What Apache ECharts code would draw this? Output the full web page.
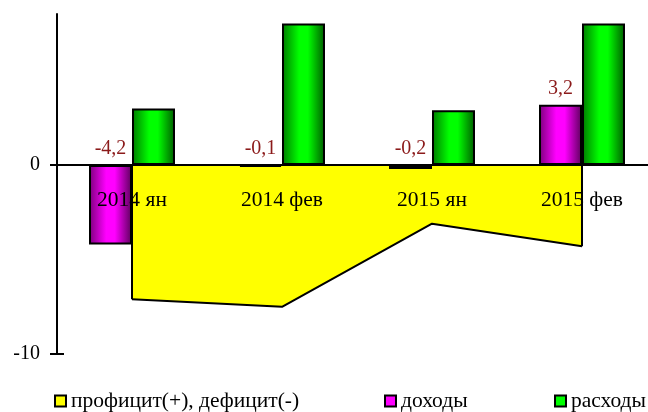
<!DOCTYPE html>
<html>
<head>
<meta charset="utf-8">
<script src="https://cdn.jsdelivr.net/npm/echarts@6/dist/echarts.min.js"></script>
<style>
  html, body { margin: 0; padding: 0; background: #fff; }
  #chart { width: 648px; height: 412px; }
</style>
</head>
<body>
<div id="chart"></div>
<script>
// data
var categories = ['2014 ян', '2014 фев', '2015 ян', '2015 фев'];
var balance = [-7.1, -7.5, -3.1, -4.3];   // профицит(+), дефицит(-)
var income = [-4.2, -0.1, -0.2, 3.2];     // доходы
var expense = [3.0, 7.5, 2.9, 7.5];       // расходы
var yTicks = [-10, 0];

var FONT = '"Liberation Serif", "DejaVu Serif", serif';

function barGradient(dark, bright, darker) {
  return new echarts.graphic.LinearGradient(0, 0, 1, 0, [
    { offset: 0, color: dark },
    { offset: 0.4, color: bright },
    { offset: 0.6, color: bright },
    { offset: 1, color: darker }
  ]);
}

var chart = echarts.init(document.getElementById('chart'), null, { renderer: 'canvas' });

var legendBase = {
  top: 390,
  padding: 0,
  itemWidth: 11,
  itemHeight: 11,
  icon: 'rect',
  textStyle: { fontFamily: FONT, fontSize: 21.5, color: '#000' },
  selectedMode: false
};

chart.setOption({
  animation: false,
  backgroundColor: '#fff',
  grid: { left: 57, right: -9, top: 14, bottom: 58, outerBoundsMode: 'none' },
  legend: [
    Object.assign({}, legendBase, {
      left: 54,
      data: [{ name: 'профицит(+), дефицит(-)', itemStyle: { color: '#ffff00', borderColor: '#000', borderWidth: 2 } }]
    }),
    Object.assign({}, legendBase, {
      left: 384,
      data: [{ name: 'доходы', itemStyle: { color: '#ff00ff', borderColor: '#000', borderWidth: 2 } }]
    }),
    Object.assign({}, legendBase, {
      left: 554,
      data: [{ name: 'расходы', itemStyle: { color: '#00ff00', borderColor: '#000', borderWidth: 2 } }]
    })
  ],
  xAxis: {
    type: 'category',
    data: categories,
    z: 10,
    position: 'bottom',
    offset: -189,
    axisLine: { onZero: false, lineStyle: { color: '#000', width: 2 } },
    axisTick: { show: false },
    axisLabel: { fontFamily: FONT, fontSize: 21.5, color: '#000', margin: 24 },
    splitLine: { show: false }
  },
  yAxis: [
    {
      type: 'value',
      min: -10,
      max: 8,
      interval: 10,
      axisLine: { show: true, lineStyle: { color: '#000', width: 2 } },
      axisTick: { show: true, customValues: yTicks, length: 7, lineStyle: { color: '#000', width: 2 } },
      axisLabel: { customValues: yTicks, fontFamily: FONT, fontSize: 20, color: '#000', margin: 17 },
      splitLine: { show: false }
    },
    {
      type: 'value',
      position: 'left',
      min: -10,
      max: 8,
      interval: 10,
      axisLine: { show: false },
      axisTick: { show: true, inside: true, customValues: yTicks, length: 7, lineStyle: { color: '#000', width: 2 } },
      axisLabel: { show: false },
      splitLine: { show: false }
    }
  ],
  series: [
    {
      name: 'профицит(+), дефицит(-)',
      type: 'line',
      z: 1,
      data: balance,
      symbol: 'none',
      lineStyle: { color: '#000', width: 2 },
      areaStyle: { color: '#ffff00', opacity: 1 },
      itemStyle: { color: '#ffff00' },
      markLine: {
        silent: true,
        symbol: 'none',
        label: { show: false },
        lineStyle: { color: '#000', width: 2, type: 'solid' },
        data: [
          [{ coord: [categories[0], 0] }, { coord: [categories[0], balance[0]] }],
          [{ coord: [categories[3], 0] }, { coord: [categories[3], balance[3]] }]
        ]
      }
    },
    {
      name: 'доходы',
      type: 'bar',
      z: 2,
      barWidth: 43,
      barGap: '0%',
      data: income,
      itemStyle: {
        color: barGradient('#7a007a', '#ff00ff', '#5a005a'),
        borderColor: '#000',
        borderWidth: 2
      },
      label: {
        show: true,
        position: 'top',
        distance: 6,
        fontFamily: FONT,
        fontSize: 20,
        color: '#8b1a1a',
        formatter: function (p) { return String(p.value).replace('.', ','); }
      }
    },
    {
      name: 'расходы',
      type: 'bar',
      z: 2,
      barWidth: 43,
      data: expense,
      itemStyle: {
        color: barGradient('#007a00', '#00ff00', '#005a00'),
        borderColor: '#000',
        borderWidth: 2
      }
    }
  ]
});
</script>
</body>
</html>
